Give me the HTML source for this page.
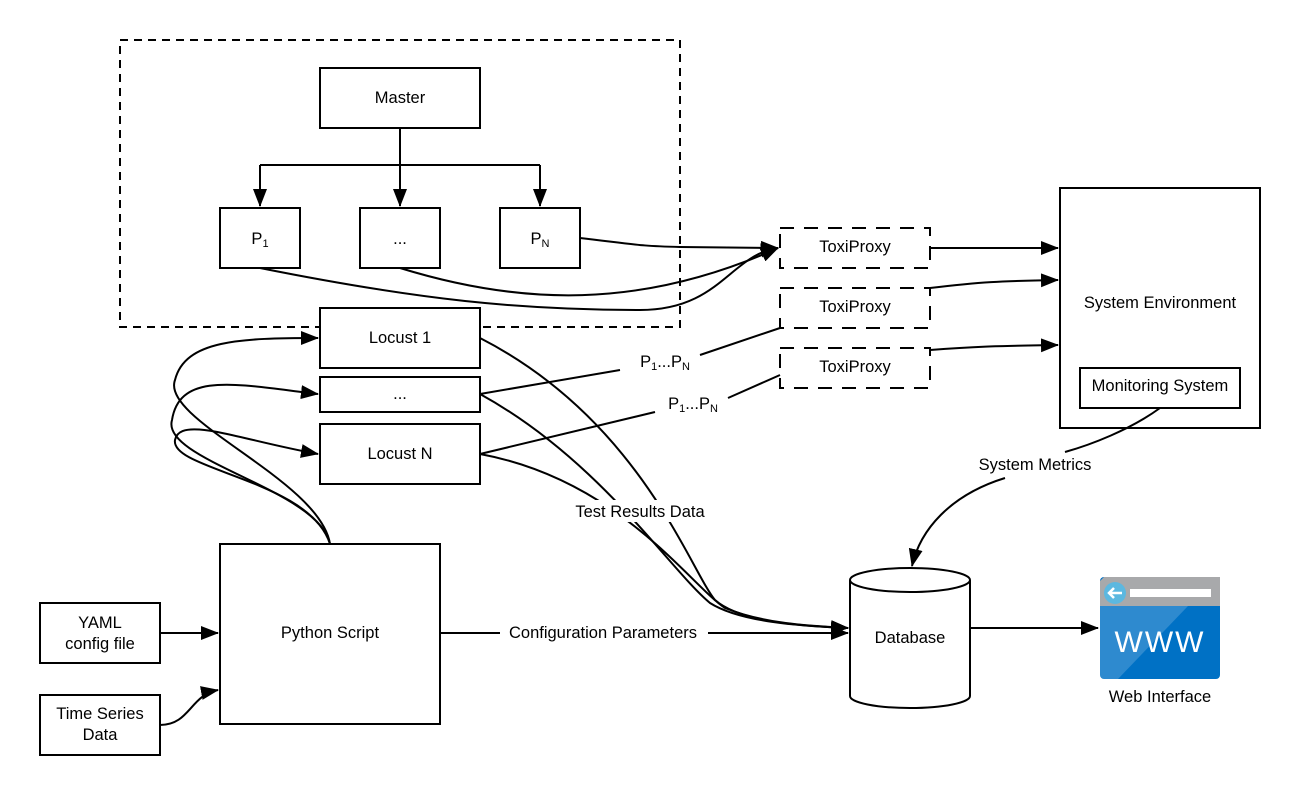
<!DOCTYPE html>
<html><head><meta charset="utf-8"><style>
html,body{margin:0;padding:0;background:#fff;}
svg{display:block;font-family:"Liberation Sans",sans-serif;}
text{font-size:16.5px;fill:#000;}
</style></head><body>
<svg width="1300" height="796" viewBox="0 0 1300 796" xmlns="http://www.w3.org/2000/svg">
<defs>
<marker id="a" markerWidth="18" markerHeight="14" refX="17" refY="7" orient="auto" markerUnits="userSpaceOnUse">
<path d="M0,0 L18,7 L0,14 Z" fill="#000"/></marker>
</defs>
<g fill="none" stroke="#000" stroke-width="2">
<rect x="120" y="40" width="560" height="287" stroke-dasharray="8,6"/>
<rect x="320" y="68" width="160" height="60"/>
<path d="M400,128 V165 M260,165 H540"/>
<path d="M260,165 V206" marker-end="url(#a)"/>
<path d="M400,165 V206" marker-end="url(#a)"/>
<path d="M540,165 V206" marker-end="url(#a)"/>
<rect x="220" y="208" width="80" height="60"/>
<rect x="360" y="208" width="80" height="60"/>
<rect x="500" y="208" width="80" height="60"/>
<rect x="780" y="228" width="150" height="40" stroke-dasharray="14,10"/>
<rect x="780" y="288" width="150" height="40" stroke-dasharray="14,10"/>
<rect x="780" y="348" width="150" height="40" stroke-dasharray="14,10"/>
<rect x="1060" y="188" width="200" height="240"/>
<rect x="1080" y="368" width="160" height="40"/>
<rect x="320" y="308" width="160" height="60" fill="#fff"/>
<rect x="320" y="377" width="160" height="35"/>
<rect x="320" y="424" width="160" height="60"/>
<rect x="220" y="544" width="220" height="180"/>
<rect x="40" y="603" width="120" height="60"/>
<rect x="40" y="695" width="120" height="60"/>
<path d="M850,580 V696 A60,12 0 0 0 970,696 V580"/>
<ellipse cx="910" cy="580" rx="60" ry="12"/>
<path d="M580,238 C640,245 640,246 680,247 L778,248" marker-end="url(#a)"/>
<path d="M400,268 C520,305 640,310 778,248" marker-end="url(#a)"/>
<path d="M260,268 C420,300 520,310 640,310 C720,310 730,255 778,248" marker-end="url(#a)"/>
<path d="M930,248 H1058" marker-end="url(#a)"/>
<path d="M930,288 C980,282 1000,281 1058,280" marker-end="url(#a)"/>
<path d="M930,350 C980,346 1000,346 1058,345" marker-end="url(#a)"/>
<path d="M480,394 L620,370 M700,355 L780,328"/>
<path d="M480,454 L655,412 M728,398 L780,375"/>
<path d="M330,544 C320,480 160,420 175,380 C185,340 240,338 318,338" marker-end="url(#a)"/>
<path d="M330,544 C320,490 160,460 172,420 C180,370 240,385 318,394" marker-end="url(#a)"/>
<path d="M330,544 C310,480 170,470 175,440 C180,415 240,440 318,454" marker-end="url(#a)"/>
<path d="M480,338 C640,420 690,570 715,600 C740,622 800,626 848,628" marker-end="url(#a)"/>
<path d="M480,394 C600,460 670,570 710,603 C740,622 800,626 848,628" marker-end="url(#a)"/>
<path d="M480,454 C620,480 690,585 725,608 C765,624 810,626 848,628" marker-end="url(#a)"/>
<path d="M440,633 H848" marker-end="url(#a)"/>
<path d="M1160,408 C1130,430 1090,445 1065,452 M1005,478 C950,495 920,530 912,566" marker-end="url(#a)"/>
<path d="M970,628 H1098" marker-end="url(#a)"/>
<path d="M160,633 H218" marker-end="url(#a)"/>
<path d="M160,725 C190,725 190,695 218,690" marker-end="url(#a)"/>
</g>
<rect x="1100" y="577" width="120" height="102" rx="4" fill="#0071c5"/>
<path d="M1104,577 H1220 V606 H1100 V581 Z" fill="#a8a9ab"/>
<path d="M1100,606 H1188 L1118,679 H1104 Q1100,679 1100,675 Z" fill="#fff" opacity="0.18"/>
<circle cx="1115" cy="593" r="11" fill="#5cb8e0"/>
<path d="M1122,593 H1109 M1114,588 L1109,593 L1114,598" stroke="#fff" stroke-width="2.5" fill="none"/>
<rect x="1130" y="589" width="81" height="8" fill="#fff"/>
<text x="1160" y="652" text-anchor="middle" style="font-size:30px;fill:#fff;letter-spacing:2px">WWW</text>
<rect x="568" y="500" width="146" height="22" fill="#fff"/>
<rect x="500" y="622" width="208" height="22" fill="#fff"/>
<g text-anchor="middle">
<text x="400" y="103">Master</text>
<text x="260" y="244">P<tspan font-size="11" dy="3">1</tspan></text>
<text x="400" y="244">...</text>
<text x="540" y="244">P<tspan font-size="11" dy="3">N</tspan></text>
<text x="855" y="252">ToxiProxy</text>
<text x="855" y="312">ToxiProxy</text>
<text x="855" y="372">ToxiProxy</text>
<text x="1160" y="308">System Environment</text>
<text x="1160" y="391">Monitoring System</text>
<text x="400" y="343">Locust 1</text>
<text x="400" y="399">...</text>
<text x="400" y="459">Locust N</text>
<text x="330" y="638">Python Script</text>
<text x="100" y="628">YAML</text>
<text x="100" y="649">config file</text>
<text x="100" y="719">Time Series</text>
<text x="100" y="740">Data</text>
<text x="910" y="643">Database</text>
<text x="1160" y="702">Web Interface</text>
<text x="1035" y="470">System Metrics</text>
<text x="640" y="517">Test Results Data</text>
<text x="603" y="638">Configuration Parameters</text>
<text x="665" y="367">P<tspan font-size="11" dy="3">1</tspan><tspan dy="-3">...P</tspan><tspan font-size="11" dy="3">N</tspan></text>
<text x="693" y="409">P<tspan font-size="11" dy="3">1</tspan><tspan dy="-3">...P</tspan><tspan font-size="11" dy="3">N</tspan></text>
</g>
</svg>
</body></html>
